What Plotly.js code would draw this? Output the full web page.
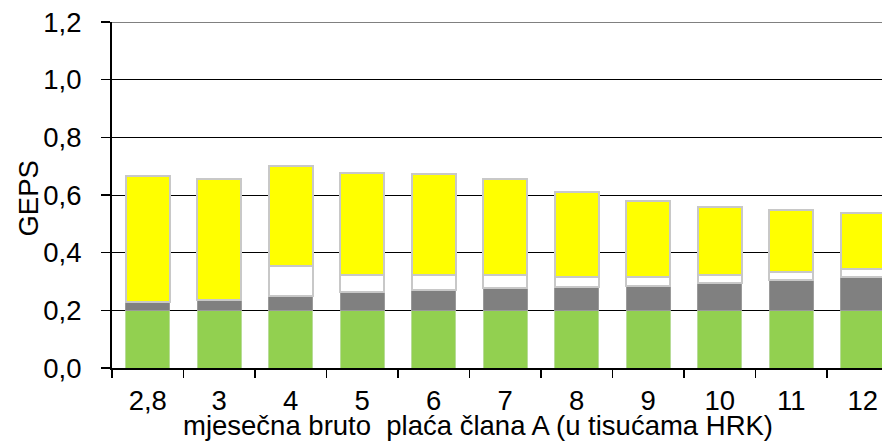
<!DOCTYPE html>
<html>
<head>
<meta charset="utf-8">
<script src="https://cdn.plot.ly/plotly-3.0.1.min.js"></script>
<style>html,body{margin:0;padding:0;background:#fff;}#chart{width:882px;height:441px;}</style>
</head>
<body>
<div id="chart"></div>
<script>
const categories = ["2,8", "3", "4", "5", "6", "7", "8", "9", "10", "11", "12"];
const greenVals  = [0.200, 0.200, 0.200, 0.200, 0.200, 0.200, 0.200, 0.200, 0.200, 0.200, 0.200];
const grayVals   = [0.030, 0.036, 0.051, 0.065, 0.071, 0.076, 0.082, 0.085, 0.096, 0.106, 0.117];
const whiteVals  = [0.000, 0.000, 0.103, 0.058, 0.050, 0.045, 0.035, 0.032, 0.025, 0.027, 0.026];
const yellowVals = [0.436, 0.420, 0.348, 0.353, 0.351, 0.335, 0.292, 0.262, 0.236, 0.214, 0.195];
const yTickVals  = [0, 0.2, 0.4, 0.6, 0.8, 1.0, 1.2];
const yTickText  = ["0,0", "0,2", "0,4", "0,6", "0,8", "1,0", "1,2"];
const xTitle = "mjesečna bruto  plaća člana A (u tisućama HRK)";
const yTitle = "GEPS";

const FONT = "Liberation Sans, Arial, sans-serif";
const FS = 27.5;
const W = 0.62;
function bar(vals, color, lineColor, lw) {
  return {type: "bar", x: categories, y: vals, width: W,
    marker: {color: color, line: {color: lineColor, width: lw}},
    hoverinfo: "skip"};
}
const traces = [
  bar(greenVals, "#92d050", "#b8dc98", 1),
  bar(grayVals, "#808080", "#9a9a9a", 1),
  bar(whiteVals, "#ffffff", "#c8c8c8", 2),
  bar(yellowVals, "#ffff00", "#c8c8c8", 2)
];
const layout = {
  width: 882, height: 441,
  margin: {l: 112, r: 0, t: 22, b: 73, pad: 0},
  paper_bgcolor: "#fff", plot_bgcolor: "#fff",
  barmode: "stack", showlegend: false,
  font: {family: FONT, size: FS, color: "#000"},
  xaxis: {type: "category", range: [-0.5, 10.27], showgrid: false,
    showline: true, linecolor: "#000", linewidth: 2,
    ticks: "outside", tickson: "boundaries", ticklen: 8, tickwidth: 1.5, tickcolor: "#000",
    tickfont: {family: FONT, size: FS}, ticklabelstandoff: 7, automargin: false, zeroline: false},
  yaxis: {range: [0, 1.2], tickvals: yTickVals, ticktext: yTickText,
    showgrid: true, gridcolor: "#000", gridwidth: 1,
    showline: true, linecolor: "#000", linewidth: 2,
    ticks: "outside", ticklen: 9, tickwidth: 1.5, tickcolor: "#000",
    tickfont: {family: FONT, size: FS}, ticklabelstandoff: 14, automargin: false, zeroline: false},
  shapes: [{type: "line", xref: "paper", yref: "y", x0: 0, x1: 1, y0: 1.2, y1: 1.2,
    line: {color: "#808080", width: 2}, layer: "above"}],
  annotations: [
    {text: xTitle, xref: "paper", yref: "paper", x: 0.4755, y: -0.166,
     xanchor: "center", yanchor: "middle", showarrow: false, font: {family: FONT, size: FS}},
    {text: yTitle, xref: "paper", yref: "paper", x: -0.109, y: 0.49, textangle: -90,
     xanchor: "center", yanchor: "middle", showarrow: false, font: {family: FONT, size: FS}}
  ]
};
Plotly.newPlot("chart", traces, layout, {staticPlot: true, displayModeBar: false});
</script>
</body>
</html>
